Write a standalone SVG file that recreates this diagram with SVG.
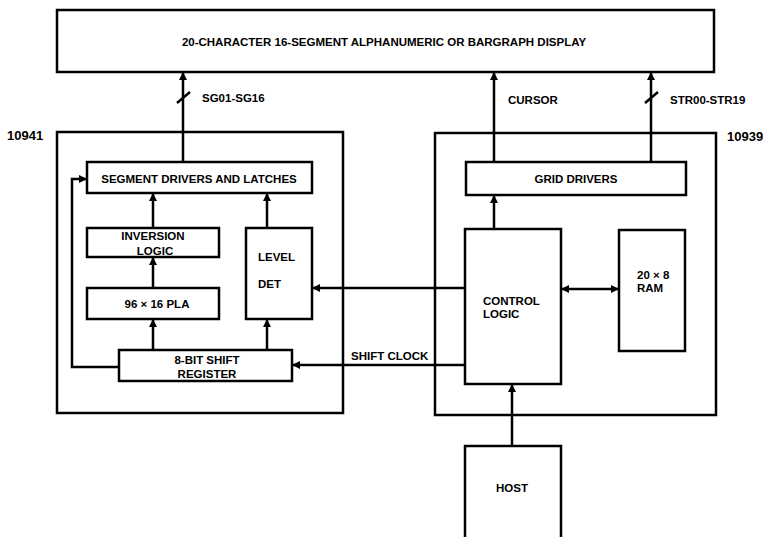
<svg xmlns="http://www.w3.org/2000/svg" width="763" height="537" viewBox="0 0 763 537">
<style>
  .box{fill:none;stroke:#000;stroke-width:2.5}
  .ln{fill:none;stroke:#000;stroke-width:2.5}
  .arr{marker-end:url(#ah)}
  text{font-family:"Liberation Sans",Arial,sans-serif;font-weight:bold;font-size:11.5px;fill:#000}
  .c{text-anchor:middle}
  .big{font-size:13px}
</style>
<defs>
  <marker id="ah" viewBox="0 0 10 10" refX="10" refY="5" markerUnits="userSpaceOnUse" markerWidth="10" markerHeight="8" orient="auto-start-reverse">
    <path d="M0,0 L10,5 L0,10 z" fill="#000"/>
  </marker>
</defs>
<rect width="763" height="537" fill="#fff"/>

<g id="display">
  <rect class="box" x="57" y="10" width="657" height="62"/>
  <text class="c" x="384" y="46">20-CHARACTER 16-SEGMENT ALPHANUMERIC OR BARGRAPH DISPLAY</text>
</g>
<g id="chip10941">
  <rect class="box" x="57" y="132" width="286" height="281"/>
  <text class="big" x="7" y="140">10941</text>
</g>
<g id="chip10939">
  <rect class="box" x="435" y="133" width="281" height="282"/>
  <text class="big" x="727" y="141">10939</text>
</g>
<g id="segdrivers">
  <rect class="box" x="87" y="162" width="225" height="31"/>
  <text class="c" x="199" y="183">SEGMENT DRIVERS AND LATCHES</text>
</g>
<g id="inversion">
  <rect class="box" x="87" y="228" width="132" height="29"/>
  <text class="c" x="153" y="240">INVERSION</text>
  <text class="c" x="155" y="255">LOGIC</text>
</g>
<g id="pla">
  <rect class="box" x="87" y="288" width="132" height="31"/>
  <text class="c" x="157" y="308">96 × 16 PLA</text>
</g>
<g id="leveldet">
  <rect class="box" x="246" y="228" width="66" height="91"/>
  <text x="258" y="261">LEVEL</text>
  <text x="258" y="288">DET</text>
</g>
<g id="shiftreg">
  <rect class="box" x="119" y="350" width="173" height="31"/>
  <text class="c" x="207" y="364">8-BIT SHIFT</text>
  <text class="c" x="207" y="378">REGISTER</text>
</g>
<g id="griddrivers">
  <rect class="box" x="466" y="162" width="220" height="33"/>
  <text class="c" x="576" y="183">GRID DRIVERS</text>
</g>
<g id="control">
  <rect class="box" x="465" y="229" width="96" height="155"/>
  <text x="483" y="305">CONTROL</text>
  <text x="483" y="318">LOGIC</text>
</g>
<g id="ram">
  <rect class="box" x="619" y="230" width="66" height="121"/>
  <text x="637" y="279">20 × 8</text>
  <text x="637" y="292">RAM</text>
</g>
<g id="host">
  <path class="box" d="M465,537 V446 H561 V537"/>
  <text class="c" x="512" y="492">HOST</text>
</g>

<g id="connectors">
  <line class="ln arr" x1="183" y1="162" x2="183" y2="72"/>
  <line class="ln" x1="177" y1="103" x2="190" y2="92"/>
  <text x="202" y="102">SG01-SG16</text>
  <line class="ln arr" x1="494" y1="162" x2="494" y2="72"/>
  <text x="508" y="104">CURSOR</text>
  <line class="ln arr" x1="651" y1="162" x2="651" y2="72"/>
  <line class="ln" x1="645" y1="103" x2="658" y2="92"/>
  <text x="670" y="104">STR00-STR19</text>

  <line class="ln arr" x1="153" y1="228" x2="153" y2="193"/>
  <line class="ln arr" x1="153" y1="288" x2="153" y2="257"/>
  <line class="ln arr" x1="153" y1="350" x2="153" y2="319"/>
  <line class="ln arr" x1="267" y1="350" x2="267" y2="319"/>
  <line class="ln arr" x1="267" y1="228" x2="267" y2="193"/>
  <polyline class="ln arr" points="119,367 72,367 72,179 87,179"/>

  <line class="ln arr" x1="465" y1="288" x2="312" y2="288"/>
  <line class="ln arr" x1="465" y1="365" x2="292" y2="365"/>
  <text x="351" y="360">SHIFT CLOCK</text>

  <line class="ln arr" x1="494" y1="229" x2="494" y2="195"/>
  <line class="ln arr" x1="561" y1="289" x2="619" y2="289" marker-start="url(#ah)"/>
  <line class="ln arr" x1="512" y1="446" x2="512" y2="384"/>
</g>
</svg>
